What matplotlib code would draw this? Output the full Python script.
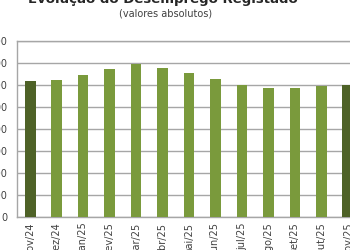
import numpy as np
import matplotlib.pyplot as plt

months = ['nov/24', 'dez/24', 'jan/25', 'fev/25', 'mar/25', 'abr/25', 'mai/25',
          'jun/25', 'jul/25', 'ago/25', 'set/25', 'out/25', 'nov/25']
desemprego = [310000, 312000, 322000, 336000, 348000, 339000, 328000,
              314000, 299000, 293000, 293000, 298000, 299000]
yticks = [0, 50000, 100000, 150000, 200000, 250000, 300000, 350000, 400000]

light = '#7a9a3c'
dark = '#4e6227'
colors = [dark] + [light] * (len(months) - 2) + [dark]

fig = plt.figure(figsize=(3.5, 2.5), dpi=100)
ax = fig.add_axes([17 / 350, 33 / 250, 344 / 350, 176 / 250])

x = np.arange(len(months))
ax.bar(x, desemprego, width=0.4, color=colors, zorder=3)

ax.set_xlim(-0.5, len(months) - 0.5)
ax.set_ylim(0, 400000)
ax.set_yticks(yticks)
ax.set_yticklabels(['{:,}'.format(v).replace(',', ' ') for v in yticks])
ax.set_xticks(x)
ax.set_xticklabels(months, rotation=90)
ax.tick_params(axis='both', length=0, labelsize=7, colors='#404040')
ax.tick_params(axis='y', pad=7)
ax.tick_params(axis='x', pad=4)

ax.grid(axis='y', color='#a6a6a6', linewidth=1.0, zorder=0)
for s in ax.spines.values():
    s.set_color('#a6a6a6')
    s.set_linewidth(1.0)

fig.text(0.465, 1.0, 'Evolução do Desemprego Registado', ha='center', va='center',
         fontsize=9.5, fontweight='bold', color='#262626')
fig.text(0.474, 0.944, '(valores absolutos)', ha='center', va='center',
         fontsize=7, color='#404040')

plt.savefig('out.png', dpi=100)
